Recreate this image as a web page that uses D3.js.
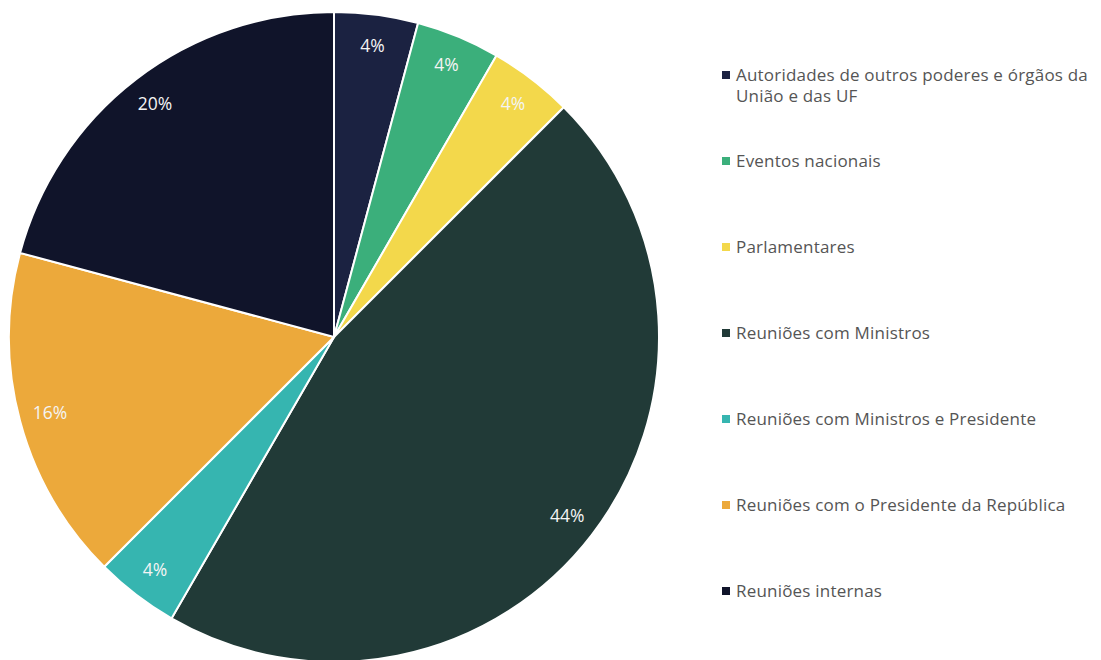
<!DOCTYPE html>
<html>
<head>
<meta charset="utf-8">
<script src="https://cdn.jsdelivr.net/npm/d3@7"></script>
<style>
  html, body { margin: 0; padding: 0; background: #fff; }
  svg { display: block; }
</style>
</head>
<body>
<div id="chart"></div>
<script>
// categories, in drawing order (clockwise from 12 o'clock)
const categories = [
  "Autoridades de outros poderes e órgãos da|União e das UF",
  "Eventos nacionais",
  "Parlamentares",
  "Reuniões com Ministros",
  "Reuniões com Ministros e Presidente",
  "Reuniões com o Presidente da República",
  "Reuniões internas"
];
const counts = [1, 1, 1, 11, 1, 4, 5];
const pctLabels = ["4%", "4%", "4%", "44%", "4%", "16%", "20%"];
const colors = ["#1b2241", "#3baf7b", "#f3d84b", "#213a37", "#36b5b0", "#eca93b", "#10142a"];

const width = 1101, height = 660;
const cx = 334, cy = 337, R = 325;

const svg = d3.select("#chart").append("svg")
  .attr("width", width)
  .attr("height", height);

const pie = d3.pie().sort(null).value(d => d);
const arcs = pie(counts);
const arc = d3.arc().innerRadius(0).outerRadius(R);
const labelArc = d3.arc().innerRadius(R * 0.905).outerRadius(R * 0.905);

const g = svg.append("g").attr("transform", `translate(${cx},${cy})`);

g.selectAll("path")
  .data(arcs)
  .join("path")
  .attr("d", arc)
  .attr("fill", (d, i) => colors[i])
  .attr("stroke", "#fff")
  .attr("stroke-width", 2);

g.selectAll("text")
  .data(arcs)
  .join("text")
  .attr("transform", d => `translate(${labelArc.centroid(d)})`)
  .attr("text-anchor", "middle")
  .attr("dy", "0.35em")
  .attr("font-family", "'Open Sans', Lato, sans-serif")
  .attr("font-size", "17.5px")
  .attr("fill", "#f4f4f4")
  .text((d, i) => pctLabels[i]);

// legend
const legend = svg.append("g").attr("transform", "translate(722,75)");
const item = legend.selectAll("g")
  .data(categories)
  .join("g")
  .attr("transform", (d, i) => `translate(0,${i * 86})`);

item.append("rect")
  .attr("x", 0).attr("y", -4)
  .attr("width", 8).attr("height", 8)
  .attr("fill", (d, i) => colors[i]);

item.append("text")
  .attr("x", 14)
  .attr("font-family", "'Open Sans', Lato, sans-serif")
  .attr("font-size", "17px")
  .attr("letter-spacing", "0.2px")
  .attr("fill", "#555")
  .selectAll("tspan")
  .data(d => d.split("|"))
  .join("tspan")
  .attr("x", 14)
  .attr("dy", (d, j) => j === 0 ? "0.35em" : "1.25em")
  .text(d => d);
</script>
</body>
</html>
